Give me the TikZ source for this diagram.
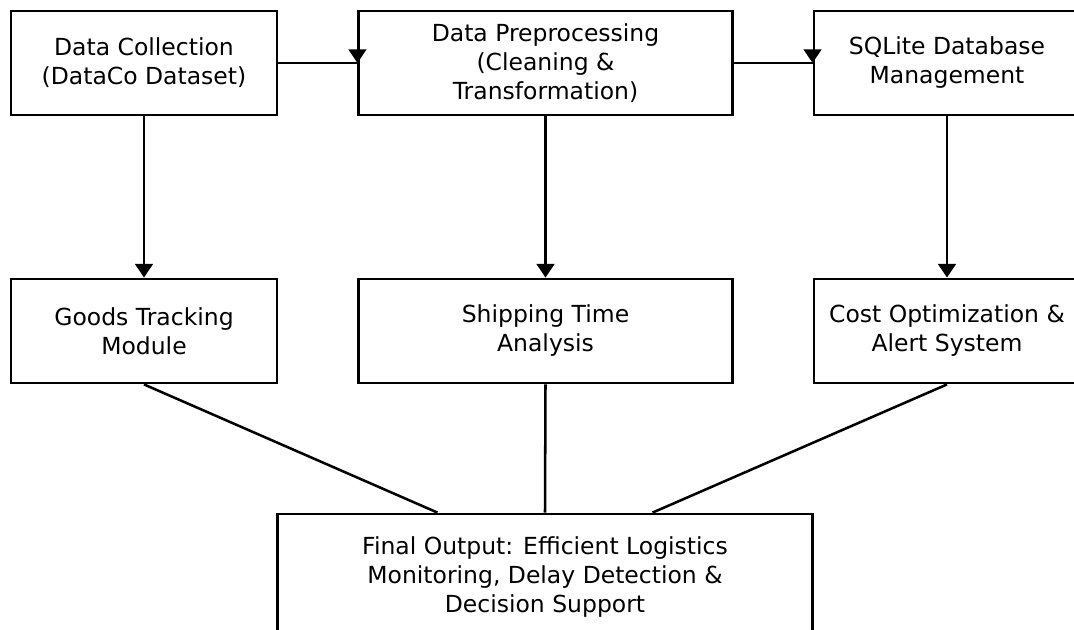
\documentclass[tikz,border=0pt]{standalone}
\usepackage{fontspec}
\setmainfont{DejaVu Sans}
\usetikzlibrary{calc,arrows.meta}
\tikzset{
	stagebox/.style={draw=black, line width=2pt, fill=white, align=center, inner sep=0pt,
		minimum height=2.6cm, font=\fontsize{16.7}{20.6}\selectfont},
	flowline/.style={line width=1.8pt},
	flowarrow/.style={line width=1.8pt, -{Triangle[width=0.44cm, length=0.34cm]}}
}

\begin{document}
\begin{tikzpicture}[x=0.025cm, y=-0.025cm]
			%%%%% START %%%%%
			
			\useasboundingbox (0, 0) rectangle (1074, 630);
			
			% top row
			\node[stagebox, minimum width=6.65cm] (collect) at (144, 63) {Data Collection\\(DataCo Dataset)};
			\node[stagebox, minimum width=9.33cm] (prep) at (545.5, 63) {Data Preprocessing\\(Cleaning \&\\Transformation)};
			\node[stagebox, minimum width=6.65cm] (sqlite) at (947, 63) {SQLite Database\\Management};
			
			% middle row
			\node[stagebox, minimum width=6.65cm] (track) at (144, 331) {Goods Tracking\\Module};
			\node[stagebox, minimum width=9.33cm] (ship) at (545.5, 331) {Shipping Time\\Analysis};
			\node[stagebox, minimum width=6.65cm] (cost) at (947, 331) {Cost Optimization \&\\Alert System};
			
			% bottom
			\node[stagebox, minimum width=13.375cm, minimum height=3.15cm] (final) at (545, 577) {Final Output: Efficient Logistics\\Monitoring, Delay Detection \&\\Decision Support};
			
			\coordinate (finL) at ($(final.north west)!0.3!(final.north east)$);
			\coordinate (finR) at ($(final.north west)!0.7!(final.north east)$);
			
			\draw[flowline] (collect.east) -- (prep.west);
			\draw[flowarrow] ($(prep.west)+(0, -13)$) -- (prep.west);
			\draw[flowline] (prep.east) -- (sqlite.west);
			\draw[flowarrow] ($(sqlite.west)+(0, -13)$) -- (sqlite.west);
			
			\draw[flowarrow] (collect.south) -- (track.north);
			\draw[flowarrow] (prep.south) -- (ship.north);
			\draw[flowarrow] (sqlite.south) -- (cost.north);
			
			\draw[flowline] (track.south) -- (finL);
			\draw[flowline] (ship.south) -- (final.north);
			\draw[flowline] (cost.south) -- (finR);
			
			%%%%% END %%%%%
\end{tikzpicture}
\end{document}
